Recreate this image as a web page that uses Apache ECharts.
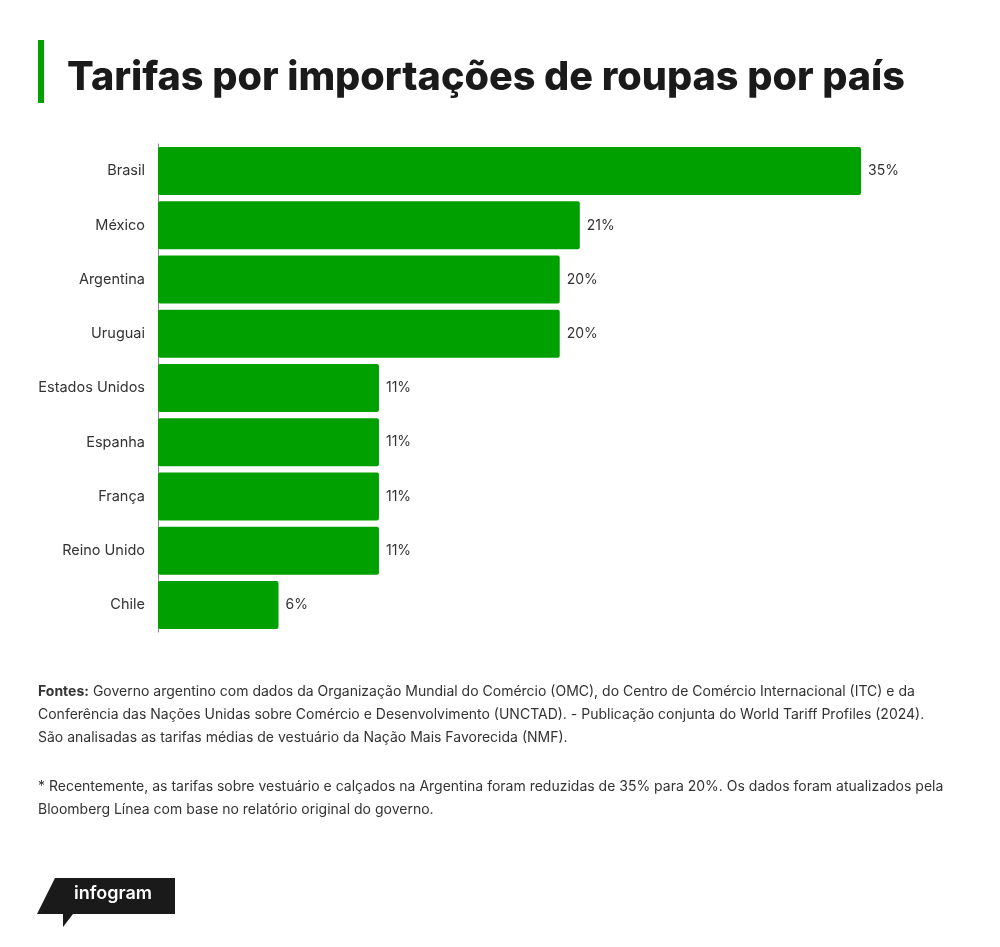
<!DOCTYPE html>
<html lang="pt">
<head>
  <meta charset="UTF-8">
  <title>Tarifas por importações de roupas por país</title>
  <script src="https://cdn.jsdelivr.net/npm/echarts@6/dist/echarts.min.js"></script>
  <style>
    html, body { margin: 0; padding: 0; background: #fff; }
  </style>
</head>
<body>
  <div id="main" style="width:1000px;height:947px;"></div>
  <script type="text/javascript">
    // dados
    var paises = ['Brasil', 'México', 'Argentina', 'Uruguai', 'Estados Unidos', 'Espanha', 'França', 'Reino Unido', 'Chile'];
    var tarifas = [35, 21, 20, 20, 11, 11, 11, 11, 6];

    var titulo = 'Tarifas por importações de roupas por país';
    var fontes = [
      'Governo argentino com dados da Organização Mundial do Comércio (OMC), do Centro de Comércio Internacional (ITC) e da',
      'Conferência das Nações Unidas sobre Comércio e Desenvolvimento (UNCTAD). - Publicação conjunta do World Tariff Profiles (2024).',
      'São analisadas as tarifas médias de vestuário da Nação Mais Favorecida (NMF).'
    ];
    var nota = [
      '* Recentemente, as tarifas sobre vestuário e calçados na Argentina foram reduzidas de 35% para 20%. Os dados foram atualizados pela',
      'Bloomberg Línea com base no relatório original do governo.'
    ];

    var fonte = 'Inter, "Noto Sans", sans-serif';
    var verde = '#00a000';

    var myChart = echarts.init(document.getElementById('main'));

    var option = {
      backgroundColor: '#fff',
      animation: false,
      title: {
        text: titulo,
        left: 62,
        top: 53,
        textStyle: {
          fontFamily: fonte,
          fontSize: 39.6,
          fontWeight: 800,
          color: '#1a1a1a'
        }
      },
      grid: {
        left: 158,
        right: 139,
        top: 144,
        height: 488,
        containLabel: false
      },
      xAxis: {
        type: 'value',
        min: 0,
        max: 35,
        show: false
      },
      yAxis: {
        type: 'category',
        data: paises,
        inverse: true,
        axisLine: { show: true, lineStyle: { color: '#888', width: 1 } },
        axisTick: { show: false },
        axisLabel: {
          margin: 13,
          fontFamily: fonte,
          fontSize: 14.5,
          color: '#333'
        }
      },
      series: [
        {
          type: 'bar',
          data: tarifas,
          barCategoryGap: '11.5%',
          itemStyle: { color: verde, borderRadius: 2 },
          label: {
            show: true,
            position: 'right',
            distance: 7,
            formatter: '{c}%',
            fontFamily: fonte,
            fontSize: 14,
            color: '#333'
          }
        }
      ],
      graphic: [
        // barra verde ao lado do título
        { type: 'rect', shape: { x: 38, y: 40, width: 6, height: 63 }, style: { fill: verde } },
        {
          type: 'text',
          left: 38,
          top: 680,
          style: {
            text: '{b|Fontes:} ' + fontes.join('\n'),
            rich: {
              b: { fontWeight: 'bold', fontFamily: fonte, fontSize: 14, color: '#1a1a1a' }
            },
            font: '14px ' + fonte,
            fill: '#333',
            lineHeight: 23
          }
        },
        {
          type: 'text',
          left: 38,
          top: 775,
          style: {
            text: nota.join('\n'),
            font: '14px ' + fonte,
            fill: '#333',
            lineHeight: 23
          }
        },
        // logo infogram
        {
          type: 'polygon',
          shape: { points: [[55, 878], [175, 878], [175, 914], [73, 914], [63, 927], [63, 914], [37, 914]] },
          style: { fill: '#1a1a1a' }
        },
        {
          type: 'text',
          left: 74,
          top: 885,
          style: { text: 'infogram', font: '600 18px ' + fonte, fill: '#fff' }
        }
      ]
    };

    myChart.setOption(option);
  </script>
</body>
</html>
